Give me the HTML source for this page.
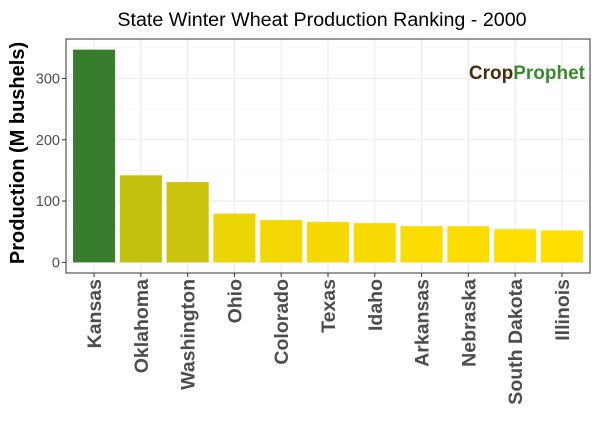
<!DOCTYPE html>
<html><head><meta charset="utf-8"><style>
body{margin:0;background:#fff;}
svg{font-family:"Liberation Sans",sans-serif;}
</style></head><body>
<svg width="600" height="420" id="c">
<text x="322" y="26" text-anchor="middle" font-size="19.7" fill="#000">State Winter Wheat Production Ranking - 2000</text>
<text transform="translate(24,153) rotate(-90)" text-anchor="middle" font-size="20" font-weight="bold" fill="#000">Production (M bushels)</text>
<g id="grid"></g><g id="bars"></g><g id="axes"></g>
<text x="585" y="79" text-anchor="end" font-size="19" font-weight="bold"><tspan fill="#4a2a0c">Crop</tspan><tspan fill="#3a8a2c">Prophet</tspan></text>
</svg>
<script>
const categories=["Kansas","Oklahoma","Washington","Ohio","Colorado","Texas","Idaho","Arkansas","Nebraska","South Dakota","Illinois"];
const values=[347,142,131,79.5,69,66,64,59,59,54,52];
const yTicks=[0,100,200,300];
const NS="http://www.w3.org/2000/svg";
const L=66,R=590,T=39,B=273;
const vmax=Math.max(...values),vmin=Math.min(...values);
const d0=-0.05*vmax,d1=1.05*vmax;
const y=v=>B-(v-d0)/(d1-d0)*(B-T);
const step=(R-L)/(categories.length-1+1.2);
const x=i=>L+(0.6+i)*step;
function mk(t,a,p){const e=document.createElementNS(NS,t);for(const k in a)e.setAttribute(k,a[k]);(p||document.getElementById('c')).appendChild(e);return e;}
const grid=document.getElementById('grid'),bars=document.getElementById('bars'),axes=document.getElementById('axes');
mk('rect',{x:L,y:T,width:R-L,height:B-T,fill:'#fff'},grid);
for(let k=0;k<yTicks.length;k++){const v=yTicks[k];
 const g=mk('line',{x1:L,x2:R,y1:y(v),y2:y(v),stroke:'#ebebeb','stroke-width':1.1},grid);
 
 const m=mk('line',{x1:L,x2:R,y1:y(v+50),y2:y(v+50),stroke:'#f3f3f3','stroke-width':0.6},grid);
 
 const t=mk('text',{x:L-6,y:y(v)+5,'text-anchor':'end','font-size':14.5,fill:'#4d4d4d'},axes);t.textContent=v;
 
 mk('line',{x1:L-4,x2:L,y1:y(v),y2:y(v),stroke:'#333'},axes);
}
function col(v){const t=(v-vmin)/(vmax-vmin);const a=[255,222,0],b=[56,125,45];
 return 'rgb('+a.map((c,i)=>Math.round(c+(b[i]-c)*t)).join(',')+')';}
categories.forEach((c,i)=>{
 const g=mk('line',{x1:x(i),x2:x(i),y1:T,y2:B,stroke:'#ebebeb','stroke-width':1.1},grid);
 
 const w=step*0.9;
 const r=mk('rect',{x:x(i)-w/2,y:y(values[i]),width:w,height:y(0)-y(values[i]),fill:col(values[i])},bars);
 
 
 mk('line',{x1:x(i),x2:x(i),y1:B,y2:B+4,stroke:'#333'},axes);
 const t=mk('text',{transform:'translate('+(x(i)+7)+','+(B+6)+') rotate(-90)','text-anchor':'end','font-size':19.5,'font-weight':'bold',fill:'#4d4d4d'},axes);
 t.textContent=c;
 
});
const f=mk('rect',{x:L,y:T,width:R-L,height:B-T,fill:'none',stroke:'#333','stroke-width':1},axes);

</script>
</body></html>
